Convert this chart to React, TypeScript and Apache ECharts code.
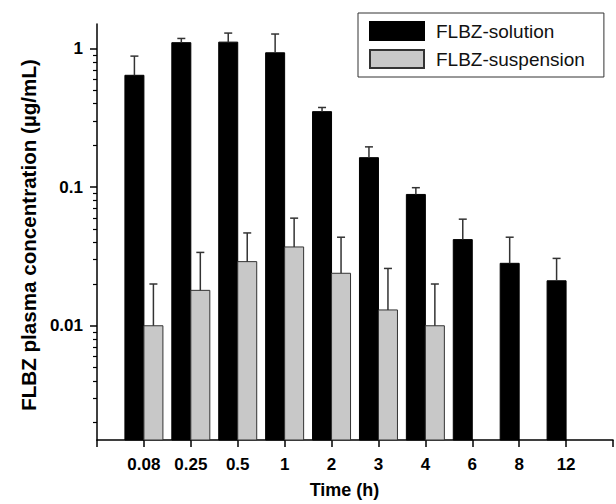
import React, { useEffect, useRef } from "react";
import * as echarts from "echarts";

const categories = ["", "0.08", "0.25", "0.5", "1", "2", "3", "4", "6", "8", "12", ""];
const solutionMean = [null, 0.64, 1.1, 1.11, 0.93, 0.35, 0.163, 0.0885, 0.0418, 0.0282, 0.0211, null];
const solutionUpper = [null, 0.88, 1.18, 1.29, 1.27, 0.375, 0.195, 0.099, 0.0587, 0.0435, 0.0306, null];
const suspensionMean = [null, 0.01, 0.018, 0.029, 0.037, 0.0239, 0.013, 0.01, null, null, null, null];
const suspensionUpper = [null, 0.02, 0.0338, 0.0467, 0.0597, 0.0435, 0.0259, 0.02, null, null, null, null];
const yMajorTicks = [0.01, 0.1, 1];
const yMinorTicks = [
  0.002, 0.003, 0.004, 0.005, 0.006, 0.007, 0.008, 0.009,
  0.02, 0.03, 0.04, 0.05, 0.06, 0.07, 0.08, 0.09,
  0.2, 0.3, 0.4, 0.5, 0.6, 0.7, 0.8, 0.9,
];
const yMin = 0.0015;
const yMax = 1.5;
const seriesNames = ["FLBZ-solution", "FLBZ-suspension"];

const FONT = "'Liberation Sans', Arial, Helvetica, sans-serif";
const BAR_W = 19;

function barData(mean: (number | null)[], upper: (number | null)[]) {
  const out: number[][] = [];
  mean.forEach((m, i) => {
    const u = upper[i];
    if (m != null && u != null) out.push([i, m, u]);
  });
  return out;
}

function barSeries(name: string, data: number[][], side: number, fill: string, border: string) {
  return {
    name,
    type: "custom",
    yAxisIndex: 0,
    data,
    encode: { x: 0, y: 1 },
    itemStyle: { color: fill, borderColor: border, borderWidth: 1 },
    renderItem: (params: any, api: any) => {
      const i = api.value(0);
      const base = api.coord([i, yMin]);
      const top = api.coord([i, api.value(1)]);
      const hi = api.coord([i, api.value(2)]);
      const x0 = side < 0 ? top[0] - BAR_W : top[0];
      const cx = x0 + BAR_W / 2;
      const st = { stroke: "#333", lineWidth: 1.5 };
      return {
        type: "group",
        children: [
          {
            type: "rect",
            shape: { x: x0, y: top[1], width: BAR_W, height: base[1] - top[1] },
            style: { fill, stroke: border, lineWidth: 1 },
          },
          { type: "line", shape: { x1: cx, y1: top[1], x2: cx, y2: hi[1] }, style: st },
          { type: "line", shape: { x1: cx - 4, y1: hi[1], x2: cx + 4, y2: hi[1] }, style: st },
        ],
      };
    },
  };
}

export default function App() {
  const ref = useRef<HTMLDivElement>(null);
  useEffect(() => {
    if (!ref.current) return;
    const chart = echarts.init(ref.current, undefined, { renderer: "svg" });
    chart.setOption({
      animation: false,
      backgroundColor: "#fff",
      textStyle: { fontFamily: FONT },
      grid: { left: 97, right: 3, top: 24, bottom: 61, containLabel: false },
      legend: {
        data: seriesNames,
        orient: "vertical",
        left: 358,
        top: 13,
        icon: "rect",
        itemWidth: 54,
        itemHeight: 18,
        itemGap: 8,
        padding: [8, 19, 8, 11],
        borderColor: "#333",
        borderWidth: 1,
        backgroundColor: "#fff",
        textStyle: { fontSize: 19, color: "#111", fontFamily: FONT, padding: [0, 0, 0, 7] },
      },
      xAxis: {
        type: "category",
        data: categories,
        boundaryGap: false,
        axisLine: { lineStyle: { color: "#000", width: 1.5 } },
        axisTick: { length: 7, interval: 0, lineStyle: { color: "#000", width: 1.5 } },
        axisLabel: {
          interval: 0,
          fontSize: 17,
          fontWeight: "bold",
          color: "#000",
          margin: 16,
          fontFamily: FONT,
        },
        splitLine: { show: false },
        name: "Time (h)",
        nameLocation: "middle",
        nameGap: 41,
        nameTextStyle: {
          fontSize: 18,
          fontWeight: "bold",
          color: "#000",
          fontFamily: FONT,
          padding: [0, 21, 0, 0],
        },
      },
      yAxis: [
        {
          type: "log",
          logBase: 10,
          min: yMin,
          max: yMax,
          position: "left",
          axisLine: { show: true, lineStyle: { color: "#000", width: 1.5 } },
          axisTick: { show: true, length: 7, customValues: yMajorTicks, lineStyle: { color: "#000", width: 1.5 } },
          axisLabel: {
            customValues: yMajorTicks,
            fontSize: 17,
            fontWeight: "bold",
            color: "#000",
            margin: 14,
            fontFamily: FONT,
          },
          splitLine: { show: false },
          minorTick: { show: false },
          name: "FLBZ plasma concentration (µg/mL)",
          nameLocation: "middle",
          nameGap: 56,
          nameTextStyle: {
            fontSize: 20.6,
            fontWeight: "bold",
            color: "#000",
            fontFamily: FONT,
            padding: [0, 6, 0, 0],
          },
        },
        {
          type: "log",
          logBase: 10,
          min: yMin,
          max: yMax,
          position: "left",
          axisLine: { show: false },
          axisTick: { show: true, length: 4, customValues: yMinorTicks, lineStyle: { color: "#000", width: 1.2 } },
          axisLabel: { show: false },
          splitLine: { show: false },
        },
      ],
      series: [
        barSeries(seriesNames[0], barData(solutionMean, solutionUpper), -1, "#000", "#000"),
        barSeries(seriesNames[1], barData(suspensionMean, suspensionUpper), 1, "#c8c8c8", "#333"),
      ],
    });
    return () => chart.dispose();
  }, []);
  return (
    <div
      ref={ref}
      style={{ position: "fixed", left: 0, top: 0, width: 616, height: 504, background: "#fff" }}
    />
  );
}
